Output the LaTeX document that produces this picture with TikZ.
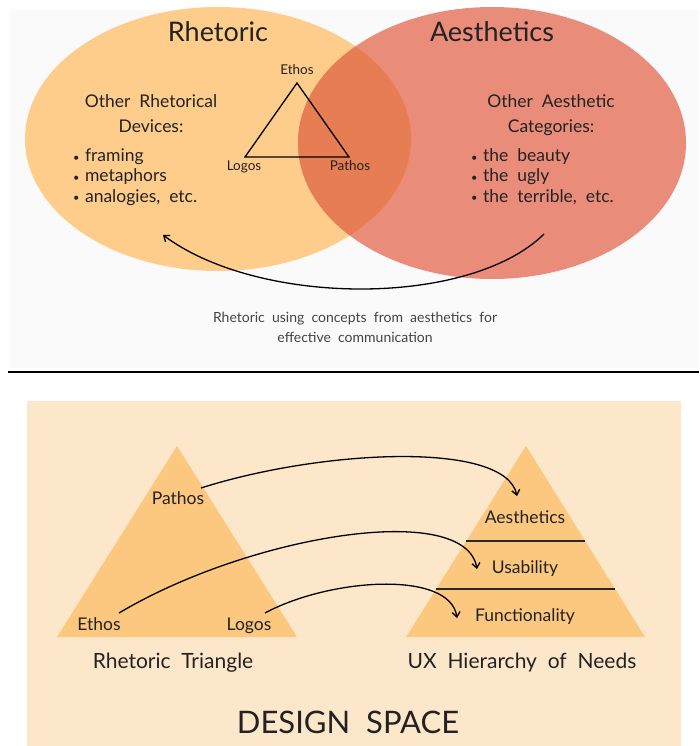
\documentclass[tikz,border=0pt]{standalone}
\usepackage{fontspec}
\setmainfont[WordSpace=2.0]{Lato}
\usetikzlibrary{arrows.meta}
\definecolor{lorange}{HTML}{FECD8B}
\definecolor{salmon}{HTML}{E98C79}
\definecolor{overlapc}{HTML}{E77D52}
\definecolor{topbg}{HTML}{FAFAFA}
\definecolor{peach}{HTML}{FDE7CA}
\definecolor{tri}{HTML}{FCC77F}
\definecolor{txt}{HTML}{222222}
\definecolor{capc}{HTML}{444444}
\newcommand{\bul}{{\fontsize{11}{11}\selectfont\raisebox{0.5pt}{•}}\hspace{5.5pt}}
\tikzset{
  fs/.style={font=\fontsize{#1}{#1}\selectfont},
  lbl/.style={inner sep=0pt, text=txt, anchor=base},
  lblw/.style={inner sep=0pt, text=txt, anchor=base west},
  conn/.style={line width=1.3pt, -{Straight Barb[length=5pt,width=8pt]}},
}
\begin{document}
\begin{tikzpicture}[x=1pt,y=-1pt]
\useasboundingbox (0,0) rectangle (699,746);
% top panel
\fill[topbg] (10,10) rectangle (699,368);
\fill[lorange] (218,139) ellipse [x radius=193pt, y radius=132pt];
\fill[salmon] (492,143) ellipse [x radius=194pt, y radius=136pt];
\begin{scope}
  \clip (218,139) ellipse [x radius=193pt, y radius=132pt];
  \fill[overlapc] (492,143) ellipse [x radius=194pt, y radius=136pt];
\end{scope}
\node[lbl, fs=27] (rh) at (218,42) {Rhetoric};
\node[lbl, fs=27] (ae) at (492,42) {Aesthetics};
% small triangle
\coordinate (te) at (297,83);
\coordinate (tl) at (245,157);
\coordinate (tr) at (349,157);
\draw[line width=1.3pt, line join=miter] (te) -- (tl) -- (tr) -- cycle;
\node[lbl, fs=13.5] (ethos1) at (297,75) {Ethos};
\node[lbl, fs=13.5] (logos1) at (244,171) {Logos};
\node[lbl, fs=13.5] (pathos1) at (350,171) {Pathos};
% left text
\node[lbl, fs=17.5] (orh) at (151,108) {Other Rhetorical};
\node[lbl, fs=17.5] (dev) at (151,133) {Devices:};
\node[lblw, fs=17.5] (b1) at (73,162) {\bul framing};
\node[lblw, fs=17.5] (b2) at (73,182) {\bul metaphors};
\node[lblw, fs=17.5] (b3) at (73,202) {\bul analogies, etc.};
% right text
\node[lbl, fs=17.5] (oae) at (551,108) {Other Aesthetic};
\node[lbl, fs=17.5] (cat) at (551,133) {Categories:};
\node[lblw, fs=17.5] (c1) at (471,162) {\bul the beauty};
\node[lblw, fs=17.5] (c2) at (471,182) {\bul the ugly};
\node[lblw, fs=17.5] (c3) at (471,202) {\bul the terrible, etc.};
% big arrow
\coordinate (as) at (544,234);
\coordinate (ae2) at (163,235);
\draw[conn] (as) .. controls (470,307) and (260,307) .. (ae2);
\node[lbl, fs=14, text=capc] (cap1) at (355,322) {Rhetoric using concepts from aesthetics for};
\node[lbl, fs=14, text=capc] (cap2) at (355,342) {effective communication};
% divider
\coordinate (d1) at (8,372);
\coordinate (d2) at (699,372);
\draw[line width=2pt] (d1) -- (d2);
% bottom panel
\fill[peach] (27,401) rectangle (681,746);
\coordinate (la) at (177,446);
\coordinate (ll) at (57,637);
\coordinate (lr) at (297,637);
\fill[tri] (la) -- (ll) -- (lr) -- cycle;
\coordinate (ra) at (526,446);
\coordinate (rl) at (406,637);
\coordinate (rr) at (645,637);
\fill[tri] (ra) -- (rl) -- (rr) -- cycle;
\coordinate (s1a) at (466,541);
\coordinate (s1b) at (585,541);
\coordinate (s2a) at (436,589);
\coordinate (s2b) at (615,589);
\draw[line width=1.3pt, draw=black!85] (s1a) -- (s1b);
\draw[line width=1.3pt, draw=black!85] (s2a) -- (s2b);
\node[lbl, fs=17.5] (pathos2) at (178,504) {Pathos};
\node[lbl, fs=17.5] (ethos2) at (99,630) {Ethos};
\node[lbl, fs=17.5] (logos2) at (249,630) {Logos};
\node[lbl, fs=21] (rt) at (173,668) {Rhetoric Triangle};
\node[lbl, fs=17.5] (aes2) at (525,523) {Aesthetics};
\node[lbl, fs=17.5] (usa) at (525,573) {Usability};
\node[lbl, fs=17.5] (fun) at (525,621) {Functionality};
\node[lbl, fs=21] (ux) at (522,668) {UX Hierarchy of Needs};
\node[lbl, fs=31] (ds) at (348,733) {DESIGN SPACE};
% arrows
\coordinate (p1s) at (201,488);
\coordinate (p1e) at (517,496);
\coordinate (p2s) at (119,613);
\coordinate (p2e) at (477,569);
\coordinate (p3s) at (265,613);
\coordinate (p3e) at (457,618);
\draw[conn] (p1s) .. controls (320,450) and (505,440) .. (p1e);
\draw[conn] (p2s) .. controls (250,535) and (465,500) .. (p2e);
\draw[conn] (p3s) .. controls (330,578) and (450,570) .. (p3e);
\end{tikzpicture}
\end{document}
